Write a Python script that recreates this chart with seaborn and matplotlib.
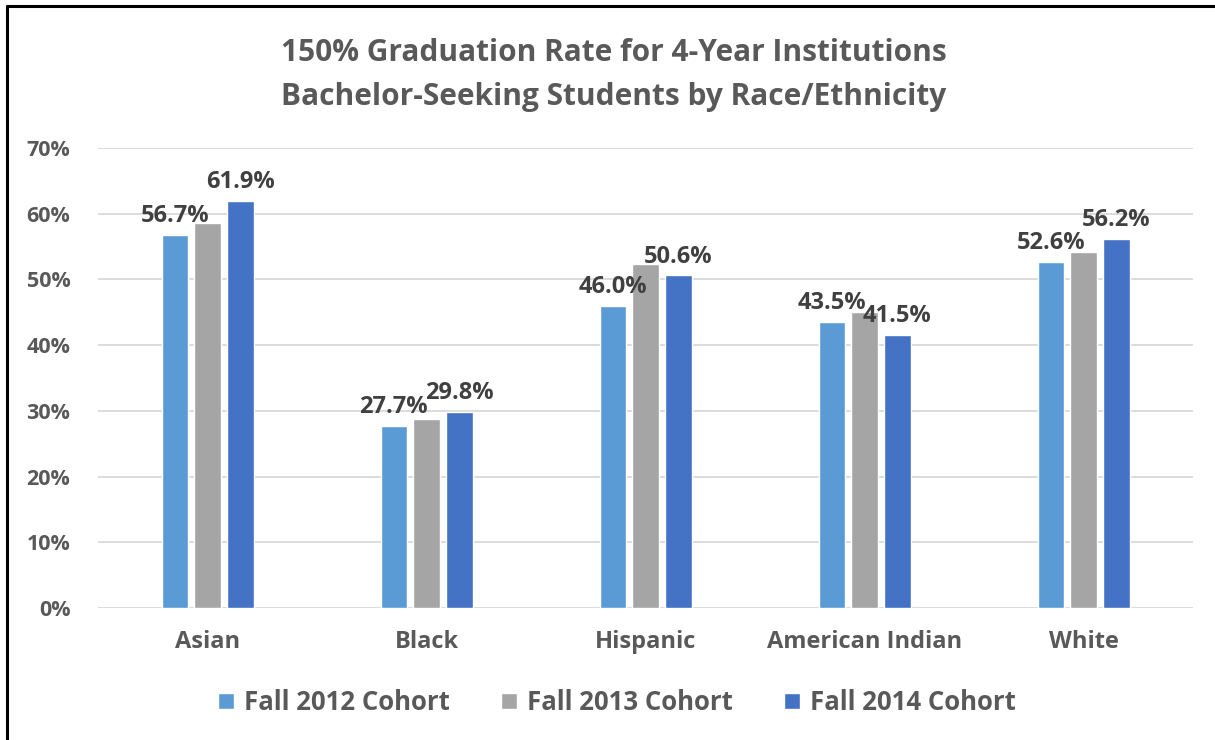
import pandas as pd
import matplotlib
matplotlib.use("Agg")
import matplotlib.pyplot as plt
import seaborn as sns

groups = ["Asian", "Black", "Hispanic", "American Indian", "White"]
cohorts = ["Fall 2012 Cohort", "Fall 2013 Cohort", "Fall 2014 Cohort"]
fall_2012 = [56.7, 27.7, 46.0, 43.5, 52.6]
fall_2013 = [58.6, 28.8, 52.4, 45.1, 54.2]  # no labels in the picture
fall_2014 = [61.9, 29.8, 50.6, 41.5, 56.2]
colors = ["#5B9BD5", "#A5A5A5", "#4472C4"]

df = pd.DataFrame({
    "group": groups * 3,
    "cohort": [cohorts[0]] * 5 + [cohorts[1]] * 5 + [cohorts[2]] * 5,
    "rate": fall_2012 + fall_2013 + fall_2014,
})

sns.set_style("white")
plt.rcParams["font.family"] = ["Open Sans", "DejaVu Sans"]
txt = "#595959"

fig = plt.figure(figsize=(12.15, 7.4), dpi=100)
ax = fig.add_axes([0.0807, 0.1784, 0.9013, 0.6216])

sns.barplot(data=df, x="group", y="rate", hue="cohort", order=groups,
            hue_order=cohorts, palette=colors, width=0.45, gap=0.2,
            saturation=1, ax=ax, legend=True, zorder=3)

ax.set_ylim(0, 70)
ax.set_xlim(-0.5, 4.5)
ax.set_yticks(range(0, 71, 10))
ax.set_yticklabels([f"{v}%" for v in range(0, 71, 10)])
ax.yaxis.grid(True, color="#D9D9D9", linewidth=1.3, zorder=0)
ax.set_axisbelow(True)
for s in ax.spines.values():
    s.set_visible(False)
ax.set_xlabel("")
ax.set_ylabel("")
ax.tick_params(axis="both", length=0, labelcolor=txt)
ax.tick_params(axis="x", pad=16, labelsize=17)
ax.tick_params(axis="y", pad=20, labelsize=15.5)
for lab in ax.get_xticklabels() + ax.get_yticklabels():
    lab.set_fontweight("bold")

# only 2012 and 2014 cohorts carry labels
for i in (0, 2):
    ax.bar_label(ax.containers[i], fmt="%.1f%%", padding=5, fontsize=17,
                 fontweight="bold", color="#404040")

handles, labels = ax.get_legend_handles_labels()
ax.get_legend().remove()
fig.legend(handles, labels, loc="center", bbox_to_anchor=(0.508, 0.051), ncol=3,
           frameon=False, prop={"size": 18.5, "weight": "bold"}, labelcolor=txt,
           handlelength=0.6, handleheight=0.6, handletextpad=0.4, columnspacing=2.0)

fig.text(0.505, 0.899, "150% Graduation Rate for 4-Year Institutions\nBachelor-Seeking Students by Race/Ethnicity",
         ha="center", va="center", fontsize=21.5, fontweight="bold", color=txt, linespacing=1.6)

# frame lines on top and left, as in the screenshot
fig.add_artist(plt.Line2D([0.0058, 1], [0.9919, 0.9919], color="black", linewidth=2.2))
fig.add_artist(plt.Line2D([0.0058, 0.0058], [0, 0.9919], color="black", linewidth=2.2))

fig.savefig("out.png", dpi=100)
